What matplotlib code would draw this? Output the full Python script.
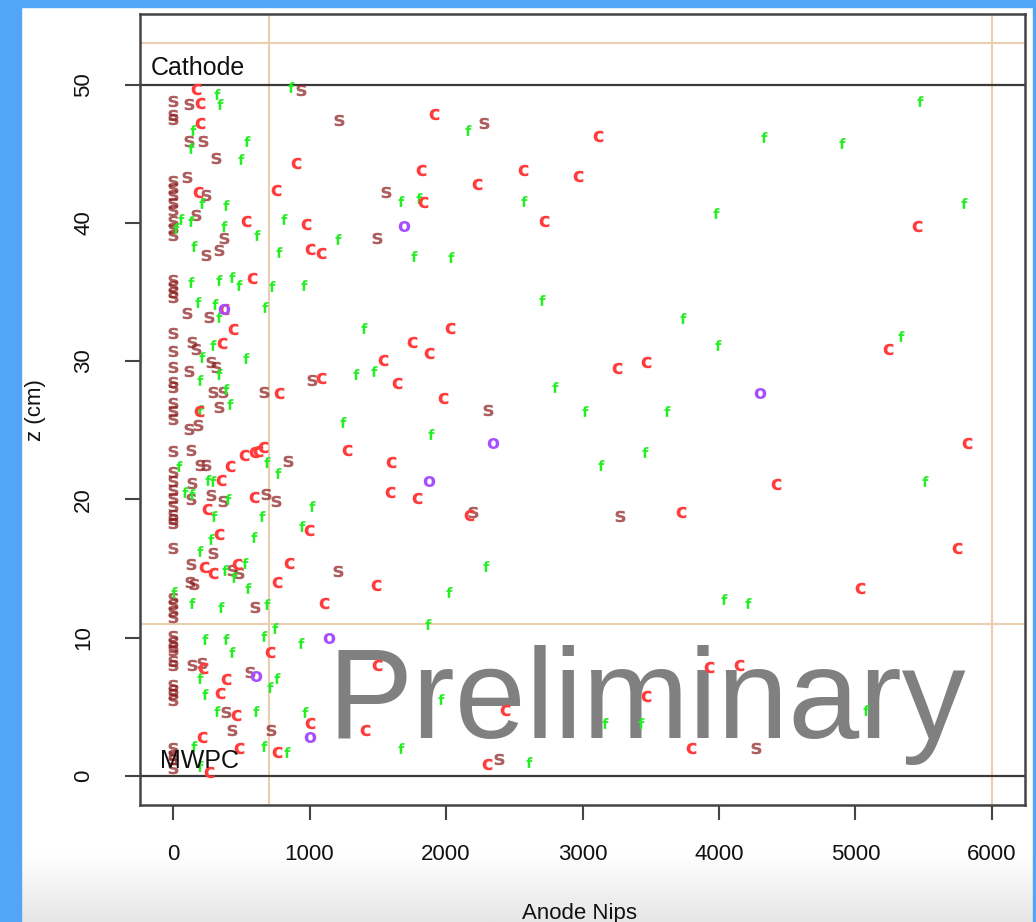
import numpy as np
import matplotlib.pyplot as plt
from matplotlib.patches import Rectangle

plt.rcParams['font.family'] = ['Liberation Sans', 'DejaVu Sans']

# ---- data (Anode Nips, z in cm) ----
c_x = [170, 200, 200, 900, 1910, 1815, 755, 180, 1835, 535, 975, 1005, 1085,
       3115, 2565, 2970, 2225, 2720, 2030, 1875, 3255, 3465, 1975, 5450, 5235,
       2165, 3720, 3930, 3465, 2435, 3795, 2300, 5815, 4420, 5745, 5035, 4150,
       1750, 1540, 1085, 1640, 580, 370, 440, 360, 780, 190, 520, 590, 625, 660,
       1275, 1595, 420, 355, 590, 1590, 1785, 250, 995, 340, 230, 290, 470, 850,
       1485, 765, 1105, 710, 220, 1495, 390, 345, 465, 1000, 1410, 215, 485, 765, 260]
c_z = [49.7, 48.7, 47.2, 44.3, 47.9, 43.8, 42.4, 42.2, 41.5, 40.1, 39.9, 38.1, 37.8,
       46.3, 43.8, 43.4, 42.8, 40.1, 32.4, 30.6, 29.5, 29.9, 27.3, 39.8, 30.9,
       18.9, 19.1, 7.9, 5.8, 4.8, 2.0, 0.9, 24.1, 21.1, 16.5, 13.6, 8.0,
       31.4, 30.1, 28.8, 28.4, 36.0, 33.8, 32.3, 31.3, 27.7, 26.4, 23.2, 23.4, 23.5, 23.8,
       23.6, 22.7, 22.4, 21.4, 20.2, 20.5, 20.1, 19.3, 17.8, 17.5, 15.1, 14.7, 15.3, 15.4,
       13.8, 14.0, 12.5, 9.0, 7.8, 8.0, 7.0, 6.0, 4.4, 3.8, 3.3, 2.8, 2.0, 1.7, 0.3]

s_col_z = [48.8, 47.8, 47.5, 43.0, 42.5, 42.0, 41.4, 40.9, 40.1, 39.6, 39.1, 35.9, 35.4,
           35.0, 34.6, 32.0, 30.7, 29.6, 28.5, 28.1, 27.0, 26.4, 25.8, 23.5, 22.0, 21.3,
           20.7, 20.1, 19.5, 18.9, 18.6, 18.3, 16.5, 12.9, 12.4, 11.9, 11.5, 10.1, 9.7,
           9.3, 9.1, 8.3, 8.0, 6.6, 6.2, 5.9, 5.5, 2.0, 1.5, 1.2, 0.6]
s_x = [115, 120, 220, 315, 940, 1215, 2275, 105, 245, 165, 370, 340, 245, 1560, 1495,
       2310, 105, 260, 140, 165, 280, 315, 115, 290, 365, 670, 1020, 185, 115, 340,
       135, 195, 245, 845, 140, 135, 280, 365, 680, 755, 2200, 3275, 290, 135, 435,
       485, 1210, 125, 150, 600, 140, 215, 565, 390, 435, 720, 2390, 4270]
s_z = [48.6, 45.9, 45.9, 44.7, 49.6, 47.4, 47.2, 43.3, 42.0, 40.6, 38.9, 38.0, 37.7, 42.2, 38.9,
       26.5, 33.5, 33.2, 31.4, 30.9, 29.9, 29.6, 29.3, 27.8, 27.8, 27.8, 28.6, 25.4, 25.1, 26.7,
       23.6, 22.5, 22.5, 22.8, 21.2, 20.0, 20.3, 19.9, 20.4, 19.9, 19.1, 18.8, 16.1, 15.3, 14.9,
       14.7, 14.8, 14.0, 13.9, 12.2, 8.0, 8.2, 7.5, 4.6, 3.3, 3.3, 1.2, 2.0]

f_x = [325, 345, 145, 135, 545, 495, 865, 2160, 2575, 3975, 2035, 2700, 3735, 3990,
       2800, 3020, 3620, 3455, 3135, 2290, 2025, 4040, 4215, 1870, 1960, 3165, 3430,
       2605, 5475, 4330, 4900, 5795, 5330, 5510, 5075, 1670, 1800, 810, 1210, 615, 780,
       1765, 960, 725, 675, 1400, 1340, 1470, 210, 390, 55, 130, 25, 375, 150, 135, 340,
       435, 485, 180, 310, 340, 295, 210, 535, 340, 195, 390, 195, 420, 1245, 1890, 45,
       685, 770, 255, 295, 85, 140, 405, 1020, 300, 655, 945, 280, 590, 195, 380, 525,
       445, 550, 5, 140, 355, 685, 235, 385, 435, 670, 750, 940, 200, 765, 710, 235,
       320, 610, 970, 1670, 155, 670, 835, 195]
f_z = [49.3, 48.6, 46.7, 45.4, 45.9, 44.6, 49.8, 46.7, 41.6, 40.7, 37.5, 34.4, 33.1, 31.2,
       28.1, 26.4, 26.4, 23.4, 22.5, 15.2, 13.3, 12.8, 12.5, 11.0, 5.6, 3.8, 3.8,
       1.0, 48.8, 46.2, 45.8, 41.4, 31.8, 21.3, 4.8, 41.6, 41.8, 40.3, 38.8, 39.1, 37.9,
       37.6, 35.5, 35.4, 33.9, 32.4, 29.1, 29.3, 41.4, 41.3, 40.3, 40.1, 39.6, 39.8, 38.3, 35.7, 35.9,
       36.1, 35.5, 34.3, 34.1, 33.2, 31.2, 30.3, 30.2, 29.1, 28.6, 28.0, 26.5, 26.9, 25.6, 24.7, 22.4,
       22.7, 21.9, 21.4, 21.3, 20.5, 20.4, 20.0, 19.5, 18.8, 18.8, 18.1, 17.1, 17.3, 16.3, 14.9, 15.4,
       14.4, 13.6, 13.3, 12.5, 12.2, 12.4, 9.9, 9.9, 9.0, 10.1, 10.7, 9.6, 7.1, 7.1, 6.4, 5.9,
       4.7, 4.7, 4.6, 2.0, 2.2, 2.2, 1.7, 0.7]

o_x = [1690, 375, 4300, 2345, 1875, 1145, 610, 1000]
o_z = [39.8, 33.8, 27.7, 24.1, 21.3, 10.0, 7.2, 2.8]

x_ticks = [0, 1000, 2000, 3000, 4000, 5000, 6000]
y_ticks = [0, 10, 20, 30, 40, 50]


def main():
    fig = plt.figure(figsize=(10.36, 9.22), dpi=100)
    fig.patch.set_facecolor('white')

    # grey fade at the bottom of the slide
    bg = fig.add_axes([0, 0, 1, 70 / 922], zorder=-5)
    grad = np.linspace(1.0, 0.9, 50).reshape(-1, 1)
    bg.imshow(grad, aspect='auto', cmap='gray', vmin=0, vmax=1,
              extent=[0, 1, 0, 1], origin='upper')
    bg.axis('off')

    ax = fig.add_axes([140 / 1036, 1 - 805 / 922, 885 / 1036, 791 / 922])
    ax.set_xlim(-242, 6242)
    ax.set_ylim(-2.1, 55.1)

    # detector lines
    ax.axhline(50, color='#3a3a3a', lw=1.6, zorder=2)
    ax.axhline(0, color='#3a3a3a', lw=1.6, zorder=2)
    tan = '#e9cfae'
    ax.axhline(53, color=tan, lw=1.5, zorder=1)
    ax.axhline(11, color=tan, lw=1.5, zorder=1)
    ax.axvline(700, color=tan, lw=1.5, zorder=1)
    ax.axvline(6000, color=tan, lw=1.5, zorder=1)

    ax.text(1135, 2.75, 'Preliminary', fontsize=92, color='#808080',
            ha='left', va='baseline', zorder=3)

    ax.text(-160, 50.7, 'Cathode', fontsize=18, color='#111111',
            ha='left', va='baseline', zorder=4)
    ax.text(-95, 0.6, 'MWPC', fontsize=18, color='#111111',
            ha='left', va='baseline', zorder=6)

    ms = 68
    ax.scatter([0] * len(s_col_z), s_col_z, marker=r'$\mathbf{s}$', s=ms,
               color='#8b1a1a', alpha=0.7, linewidths=0, zorder=5)
    ax.scatter(s_x, s_z, marker=r'$\mathbf{s}$', s=ms,
               color='#8b1a1a', alpha=0.7, linewidths=0, zorder=5)
    ax.scatter(f_x, f_z, marker=r'$\mathbf{f}$', s=60,
               color='#22ee22', linewidths=0, zorder=5)
    ax.scatter(c_x, c_z, marker=r'$\mathbf{c}$', s=ms,
               color='#ff3b3b', linewidths=0, zorder=5)
    ax.scatter(o_x, o_z, marker=r'$\mathbf{o}$', s=ms,
               color='#a64dff', linewidths=0, zorder=5)

    for sp in ax.spines.values():
        sp.set_color('#444444')
        sp.set_linewidth(1.8)

    ax.set_xticks(x_ticks)
    ax.set_yticks(y_ticks)
    ax.set_yticklabels([str(v) for v in y_ticks], rotation=90, va='center')
    ax.tick_params(axis='both', direction='out', length=11, width=1.5,
                   color='#444444', labelsize=16, labelcolor='#111111')
    ax.tick_params(axis='x', pad=17)
    ax.tick_params(axis='y', pad=22)

    fig.text(35 / 1036, 1 - 410 / 922, 'z (cm)', rotation=90, fontsize=16,
             color='#111111', ha='center', va='center')
    fig.text(580 / 1036, 1 - 903 / 922, 'Anode Nips', fontsize=16,
             color='#111111', ha='center', va='top')

    # blue slide frame
    blue = '#52a5f7'
    fig.patches.append(Rectangle((0, 0), 21 / 1036, 1, transform=fig.transFigure,
                                 color=blue, zorder=10))
    fig.patches.append(Rectangle((0, 1 - 7 / 922), 1, 7 / 922, transform=fig.transFigure,
                                 color=blue, zorder=10))
    fig.patches.append(Rectangle((1033 / 1036, 0), 3 / 1036, 1, transform=fig.transFigure,
                                 color=blue, zorder=10))

    fig.savefig('out.png', dpi=100)


if __name__ == "__main__":
    main()
